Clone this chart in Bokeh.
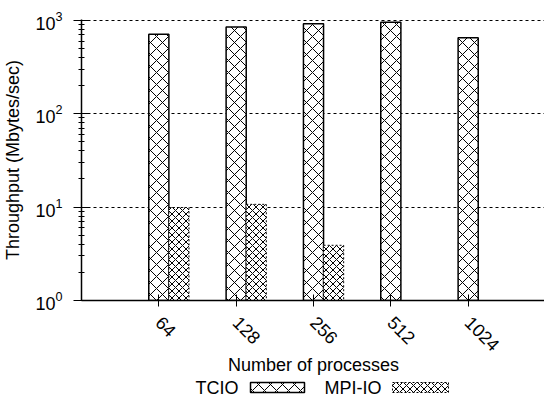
import math
from bokeh.plotting import figure
from bokeh.models import Range1d, FixedTicker, ColumnDataSource
from bokeh.layouts import column
from bokeh.transform import dodge
from bokeh.core.properties import value
from bokeh.embed import file_html
from bokeh.resources import INLINE

# ---- data ----
processes = ["64", "128", "256", "512", "1024"]
tcio = [710, 850, 920, 955, 650]
mpiio = [9.9, 10.7, 3.9, float("nan"), float("nan")]
series = ["TCIO", "MPI-IO"]

FONT = "Liberation Sans"
BAR_W = 0.26

idx = list(range(len(processes)))
src = ColumnDataSource(dict(x=idx, tcio=tcio, mpiio=mpiio))

p = figure(frame_width=464, frame_height=281, y_axis_type="log",
           x_range=Range1d(-1, 5), y_range=Range1d(1, 1020),
           output_backend="svg", toolbar_location=None,
           min_border_left=80, min_border_right=0, min_border_top=19,
           min_border_bottom=0)

p.vbar(x="x", top="tcio", bottom=1, width=BAR_W, source=src,
       fill_color="white", line_color="black", line_width=1.5,
       hatch_pattern="x", hatch_scale=12, hatch_color="black", hatch_weight=1)
p.vbar(x=dodge("x", BAR_W, range=p.x_range), top="mpiio", bottom=1, width=BAR_W,
       source=src, fill_color="white", line_color="black", line_width=1,
       line_dash="2 2", hatch_pattern="x", hatch_scale=7, hatch_color="black",
       hatch_weight=1)

p.outline_line_color = None
p.xgrid.visible = False
p.ygrid.grid_line_color = "black"
p.ygrid.grid_line_dash = "3 3"
p.ygrid.grid_line_width = 1
p.ygrid.minor_grid_line_color = None

for ax in (p.xaxis[0], p.yaxis[0]):
    ax.axis_line_width = 1.5
    ax.axis_line_color = "black"
    ax.major_tick_line_color = "black"
    ax.major_label_text_font = FONT
    ax.major_label_text_font_size = "18px"
    ax.major_label_text_color = "black"
    ax.axis_label_text_font = FONT
    ax.axis_label_text_font_size = "18px"
    ax.axis_label_text_font_style = "normal"
    ax.axis_label_text_color = "black"

p.xaxis.ticker = FixedTicker(ticks=idx)
p.xaxis.major_label_overrides = {i: s for i, s in enumerate(processes)}
p.xaxis.major_label_orientation = -math.pi / 4
p.xaxis.major_tick_in = 6
p.xaxis.major_tick_out = 6
p.xaxis.minor_tick_line_color = None
p.xaxis.major_label_standoff = 13
p.xaxis.axis_label = "Number of processes"
p.xaxis.axis_label_standoff = -5

p.yaxis.axis_label = "Throughput (Mbytes/sec)"
p.yaxis.major_tick_in = 8
p.yaxis.major_tick_out = 8
p.yaxis.minor_tick_in = 3
p.yaxis.minor_tick_out = 3
p.yaxis.minor_tick_line_color = "black"
p.yaxis.major_label_standoff = 11
p.yaxis.axis_label_standoff = 9

# ---- legend row (label then swatch); x in page pixels ----
leg = figure(frame_width=464, frame_height=21, x_range=Range1d(80, 544),
             y_range=Range1d(0, 21), output_backend="svg", toolbar_location=None,
             min_border_left=80, min_border_right=0, min_border_top=0,
             min_border_bottom=0, x_axis_location=None, y_axis_location=None)
leg.outline_line_color = None
leg.grid.visible = False
leg.text(x=[194, 323], y=[12, 12], text=series, text_font=value(FONT),
         text_font_size="18px", text_baseline="middle", text_align="left",
         text_color="black")
leg.quad(left=[249], right=[303], bottom=[7], top=[17], fill_color="white",
         line_color="black", line_width=1.5, hatch_pattern="x", hatch_scale=12,
         hatch_color="black", hatch_weight=1)
leg.quad(left=[391], right=[447], bottom=[7], top=[17], fill_color="white",
         line_color="black", line_width=1, line_dash="2 2", hatch_pattern="x",
         hatch_scale=7, hatch_color="black", hatch_weight=1)

layout = column(p, leg, spacing=0)
open("out.html", "w").write(file_html(layout, INLINE))
